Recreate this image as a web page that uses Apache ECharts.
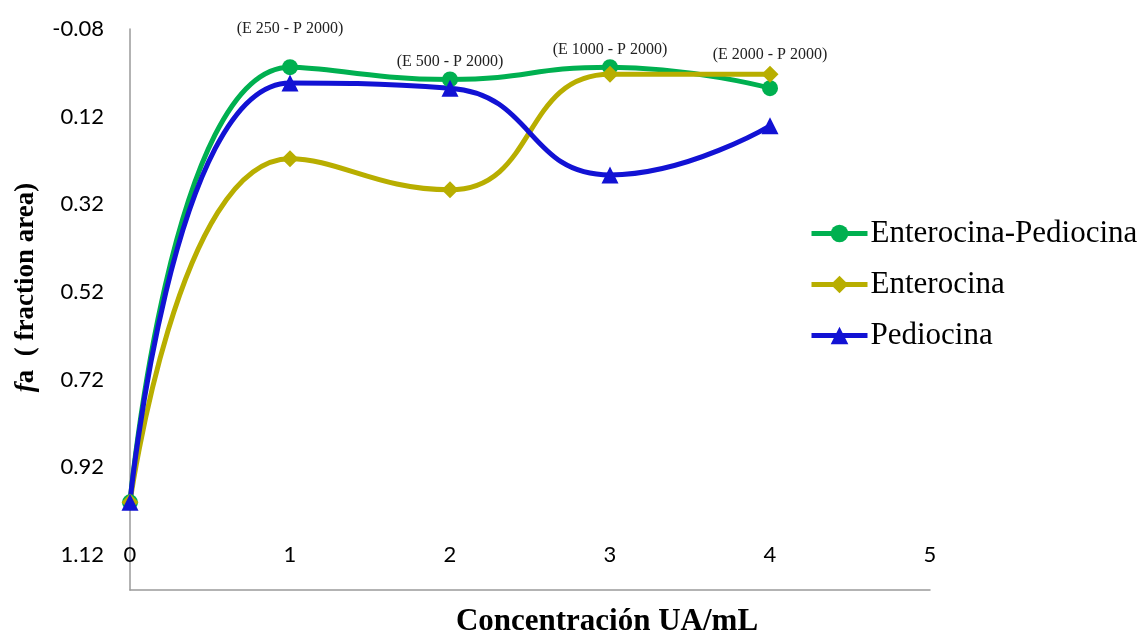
<!DOCTYPE html>
<html><head><meta charset="utf-8">
<script src="https://cdn.jsdelivr.net/npm/echarts@6/dist/echarts.min.js"></script>
<style>html,body{margin:0;padding:0;background:#fff}#c{width:1145px;height:635px}</style>
</head><body><div id="c"></div>
<script>
const concentrations = [0, 1, 2, 3, 4];
const seriesNames = ['Enterocina-Pediocina', 'Enterocina', 'Pediocina'];
const enteroPedio = [1.00, 0.007, 0.035, 0.007, 0.055];
const enterocina = [1.00, 0.216, 0.287, 0.023, 0.023];
const pediocina = [1.00, 0.043, 0.055, 0.253, 0.141];
const pointLabels = ['', '(E 250 - P 2000)', '(E 500 - P 2000)', '(E 1000 - P 2000)', '(E 2000 - P 2000)'];
const yTicks = [-0.08, 0.12, 0.32, 0.52, 0.72, 0.92, 1.12];

const labelDist = [0, 22, 2, 1, 17];
const colors = ['#00B050', '#B8AE00', '#1212D4'];
const symbols = ['circle', 'diamond', 'triangle'];
const values = [enteroPedio, enterocina, pediocina];

const series = seriesNames.map((name, si) => ({
  name, type: 'line', smooth: 0.5,
  symbol: symbols[si], symbolSize: si === 0 ? 16 : 17,
  lineStyle: { width: 5, color: colors[si] },
  itemStyle: { color: colors[si] },
  data: concentrations.map((x, i) => {
    const d = { value: [x, values[si][i]] };
    if (si === 0 && pointLabels[i]) {
      d.label = { show: true, position: 'top', distance: labelDist[i], formatter: pointLabels[i],
        fontFamily: 'Liberation Serif', fontSize: 16, color: '#222' };
    }
    return d;
  })
}));

const chart = echarts.init(document.getElementById('c'));
chart.setOption({
  animation: false,
  grid: { left: 130, right: 215, top: 29, bottom: 45, containLabel: false, outerBoundsMode: 'none' },
  legend: {
    orient: 'vertical', left: 804, top: 213, itemWidth: 56, itemHeight: 22, itemGap: 20,
    data: seriesNames,
    lineStyle: { width: 5 },
    textStyle: { fontFamily: 'Liberation Serif', fontSize: 31, color: '#000', padding: [0, 0, 0, -2] }
  },
  xAxis: {
    type: 'value', min: 0, max: 5, interval: 1,
    axisLine: { onZero: false, lineStyle: { color: '#9a9a9a', width: 1.5 } },
    axisTick: { show: false }, splitLine: { show: false },
    axisLabel: { inside: true, margin: 24, fontFamily: 'Lato', fontSize: 22, color: '#000' },
    name: 'Concentración UA/mL', nameLocation: 'middle', nameGap: 16,
    nameTextStyle: { fontFamily: 'Liberation Serif', fontSize: 31, fontWeight: 'bold', color: '#000', padding: [0, 0, 0, 154] }
  },
  yAxis: {
    type: 'value', inverse: true, min: -0.08, max: 1.2, interval: 0.2,
    axisLine: { show: true, lineStyle: { color: '#9a9a9a', width: 1.5 } },
    axisTick: { show: false }, splitLine: { show: false },
    axisLabel: {
      margin: 26, fontFamily: 'Lato', fontSize: 22, color: '#000', showMaxLabel: false,
      formatter: v => {
        const t = yTicks.find(y => Math.abs(y - v) < 1e-6);
        return t === undefined ? '' : t.toFixed(2);
      }
    },
    name: '{i|f}a  ( fraction area)', nameLocation: 'middle', nameGap: 90, nameRotate: 90,
    nameTextStyle: {
      fontFamily: 'Liberation Serif', fontSize: 27, fontWeight: 'bold', color: '#000', padding: [0, 0, 0, 44],
      rich: { i: { fontFamily: 'Liberation Serif', fontSize: 27, fontWeight: 'bold', fontStyle: 'italic', color: '#000' } }
    }
  },
  series
});
</script></body></html>
